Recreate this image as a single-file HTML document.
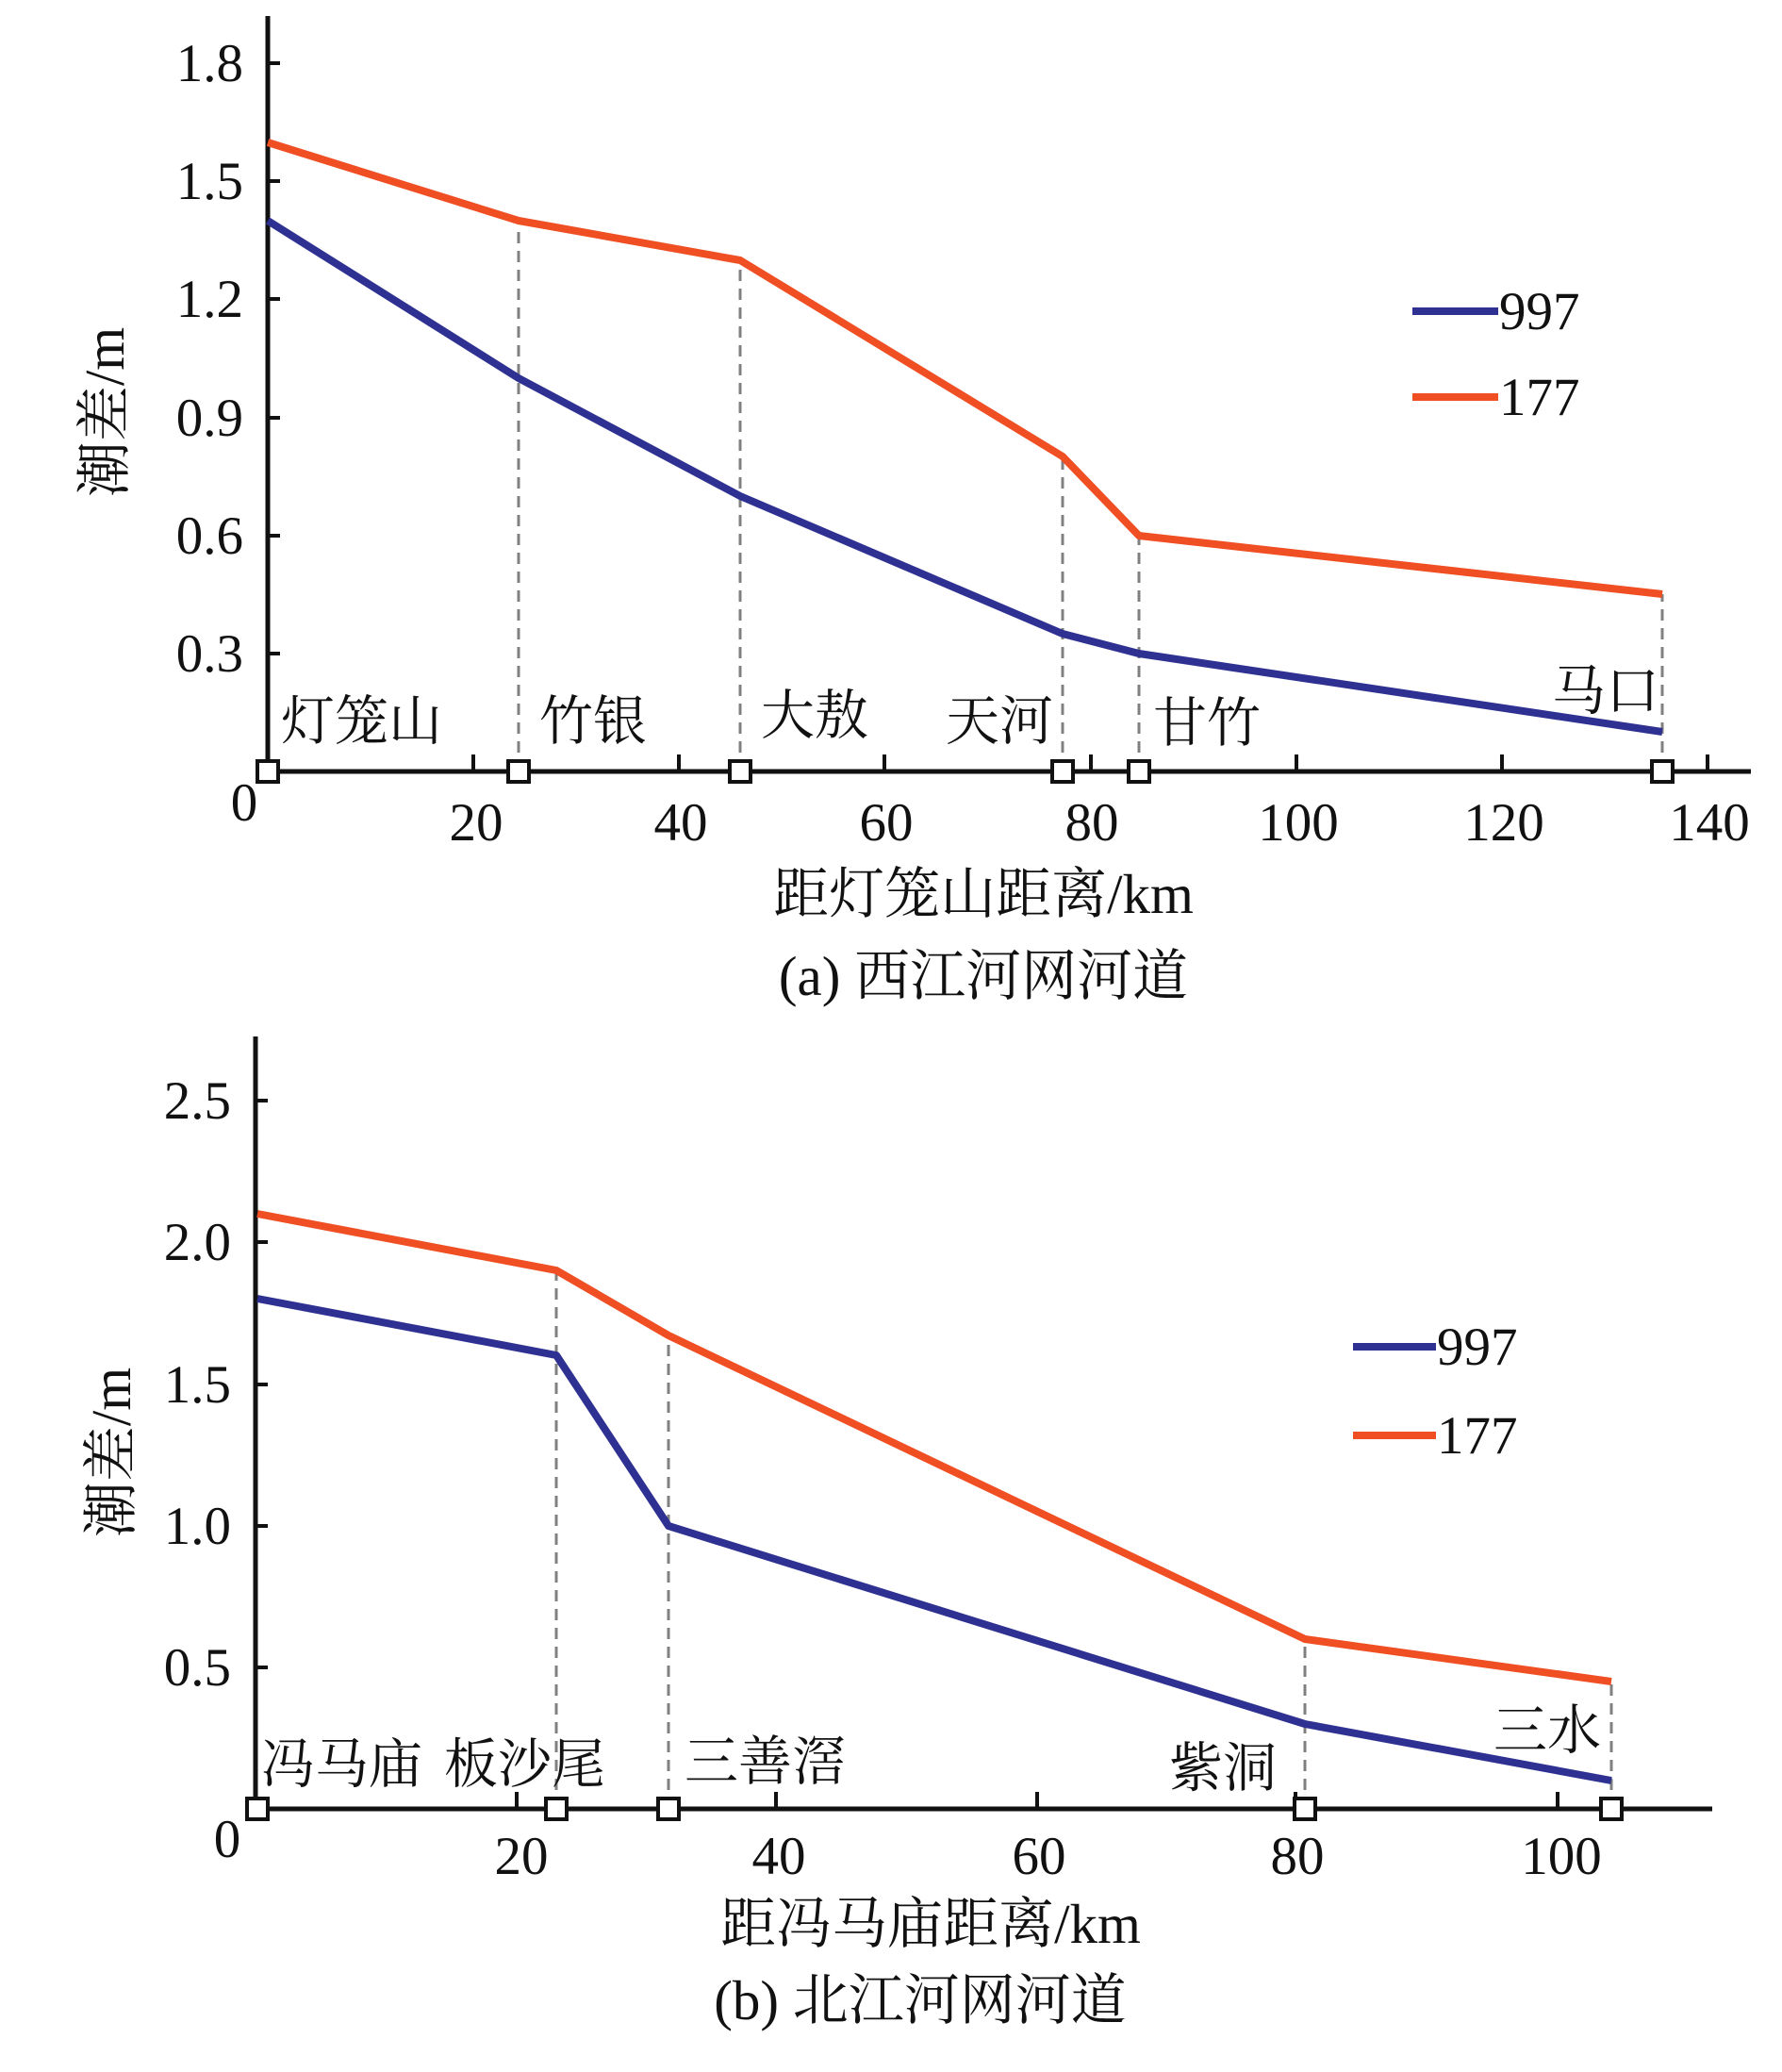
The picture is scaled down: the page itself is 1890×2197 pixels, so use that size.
<!DOCTYPE html>
<html><head><meta charset="utf-8"><style>
html,body{margin:0;padding:0;background:#fff}
svg{display:block}
.n{font-family:"Liberation Serif",serif;font-size:57px;fill:#111}
.c{font-family:"Liberation Serif","Noto Serif CJK SC",serif;font-size:59px;fill:#111}
.s{font-family:"Noto Serif CJK SC","Liberation Serif",serif;font-size:57px;fill:#111}
</style></head><body>
<svg width="1890" height="2197" viewBox="0 0 1890 2197" xmlns="http://www.w3.org/2000/svg">
<g>
<g stroke="#808080" stroke-width="3" stroke-dasharray="12 8">
<line x1="550" y1="818" x2="550" y2="234"/>
<line x1="785" y1="818" x2="785" y2="276"/>
<line x1="1127" y1="818" x2="1127" y2="484"/>
<line x1="1208" y1="818" x2="1208" y2="568"/>
<line x1="1763" y1="818" x2="1763" y2="630"/>
</g>
<line x1="284" y1="17" x2="284" y2="820" stroke="#111" stroke-width="5"/>
<line x1="272" y1="818" x2="1857" y2="818" stroke="#111" stroke-width="5"/>
<g stroke="#111" stroke-width="4">
<line x1="284" y1="67" x2="297" y2="67"/><line x1="284" y1="192" x2="297" y2="192"/>
<line x1="284" y1="317" x2="297" y2="317"/><line x1="284" y1="443" x2="297" y2="443"/>
<line x1="284" y1="568" x2="297" y2="568"/><line x1="284" y1="693" x2="297" y2="693"/>
<line x1="502" y1="818" x2="502" y2="800"/><line x1="720" y1="818" x2="720" y2="800"/>
<line x1="938" y1="818" x2="938" y2="800"/><line x1="1157" y1="818" x2="1157" y2="800"/>
<line x1="1375" y1="818" x2="1375" y2="800"/><line x1="1593" y1="818" x2="1593" y2="800"/>
<line x1="1811" y1="818" x2="1811" y2="800"/>
</g>
<polyline points="284,151 550,234 785,276 1127,484 1208,568 1763,630" fill="none" stroke="#f04e23" stroke-width="8" stroke-linejoin="round"/>
<polyline points="284,234 550,401 785,526 1127,672 1208,693 1763,776" fill="none" stroke="#2e3192" stroke-width="8" stroke-linejoin="round"/>
<g fill="#fff" stroke="#111" stroke-width="4">
<rect x="273" y="807" width="22" height="22"/><rect x="539" y="807" width="22" height="22"/>
<rect x="774" y="807" width="22" height="22"/><rect x="1116" y="807" width="22" height="22"/>
<rect x="1197" y="807" width="22" height="22"/><rect x="1752" y="807" width="22" height="22"/>
</g>
<g class="n" text-anchor="end">
<text x="258" y="86">1.8</text><text x="258" y="211">1.5</text><text x="258" y="336">1.2</text>
<text x="258" y="462">0.9</text><text x="258" y="587">0.6</text><text x="258" y="712">0.3</text>
</g>
<g class="n" text-anchor="middle">
<text x="259" y="870">0</text><text x="505" y="891">20</text><text x="722" y="891">40</text>
<text x="940" y="891">60</text><text x="1158" y="891">80</text><text x="1377" y="891">100</text>
<text x="1595" y="891">120</text><text x="1813" y="891">140</text>
</g>
<g class="s">
<text x="298" y="784">灯笼山</text><text x="572" y="784">竹银</text>
<text x="807" y="778">大敖</text><text x="1003" y="784">天河</text>
<text x="1223" y="786">甘竹</text><text x="1646" y="752">马口</text>
</g>
<line x1="1498" y1="330" x2="1589" y2="330" stroke="#2e3192" stroke-width="8"/>
<text class="n" x="1590" y="349">997</text>
<line x1="1498" y1="421" x2="1589" y2="421" stroke="#f04e23" stroke-width="8"/>
<text class="n" x="1590" y="440">177</text>
<text class="c" transform="translate(131,437) rotate(-90)" text-anchor="middle">潮差/m</text>
<text class="c" x="1043" y="968" text-anchor="middle">距灯笼山距离/km</text>
<text class="c" x="1043" y="1055" text-anchor="middle">(a) 西江河网河道</text>
</g>

<g>
<g stroke="#808080" stroke-width="3" stroke-dasharray="12 8">
<line x1="590" y1="1918" x2="590" y2="1347"/>
<line x1="709" y1="1918" x2="709" y2="1416"/>
<line x1="1384" y1="1918" x2="1384" y2="1737"/>
<line x1="1709" y1="1918" x2="1709" y2="1783"/>
</g>
<line x1="271" y1="1099" x2="271" y2="1920" stroke="#111" stroke-width="5"/>
<line x1="262" y1="1918" x2="1816" y2="1918" stroke="#111" stroke-width="5"/>
<g stroke="#111" stroke-width="4">
<line x1="271" y1="1167" x2="284" y2="1167"/><line x1="271" y1="1317" x2="284" y2="1317"/>
<line x1="271" y1="1468" x2="284" y2="1468"/><line x1="271" y1="1618" x2="284" y2="1618"/>
<line x1="271" y1="1768" x2="284" y2="1768"/>
<line x1="548" y1="1918" x2="548" y2="1900"/><line x1="823" y1="1918" x2="823" y2="1900"/>
<line x1="1100" y1="1918" x2="1100" y2="1900"/><line x1="1374" y1="1918" x2="1374" y2="1900"/>
<line x1="1652" y1="1918" x2="1652" y2="1900"/>
</g>
<polyline points="273,1287 590,1347 709,1416 1384,1738 1709,1783" fill="none" stroke="#f04e23" stroke-width="8" stroke-linejoin="round"/>
<polyline points="273,1377 590,1437 709,1618 1384,1828 1709,1888" fill="none" stroke="#2e3192" stroke-width="8" stroke-linejoin="round"/>
<g fill="#fff" stroke="#111" stroke-width="4">
<rect x="262" y="1907" width="22" height="22"/><rect x="579" y="1907" width="22" height="22"/>
<rect x="698" y="1907" width="22" height="22"/><rect x="1373" y="1907" width="22" height="22"/>
<rect x="1698" y="1907" width="22" height="22"/>
</g>
<g class="n" text-anchor="end">
<text x="245" y="1186">2.5</text><text x="245" y="1336">2.0</text><text x="245" y="1487">1.5</text>
<text x="245" y="1637">1.0</text><text x="245" y="1787">0.5</text>
</g>
<g class="n" text-anchor="middle">
<text x="241" y="1969">0</text><text x="553" y="1987">20</text><text x="826" y="1987">40</text>
<text x="1102" y="1987">60</text><text x="1376" y="1987">80</text><text x="1656" y="1987">100</text>
</g>
<g class="s">
<text x="277" y="1890">冯马庙</text><text x="471" y="1890">板沙尾</text>
<text x="726" y="1887">三善滘</text><text x="1240" y="1894">紫洞</text>
<text x="1584" y="1854">三水</text>
</g>
<line x1="1435" y1="1428" x2="1523" y2="1428" stroke="#2e3192" stroke-width="8"/>
<text class="n" x="1524" y="1447">997</text>
<line x1="1435" y1="1522" x2="1523" y2="1522" stroke="#f04e23" stroke-width="8"/>
<text class="n" x="1524" y="1541">177</text>
<text class="c" transform="translate(138,1540) rotate(-90)" text-anchor="middle">潮差/m</text>
<text class="c" x="987" y="2060" text-anchor="middle">距冯马庙距离/km</text>
<text class="c" x="976" y="2141" text-anchor="middle">(b) 北江河网河道</text>
</g>
</svg>
</body></html>
